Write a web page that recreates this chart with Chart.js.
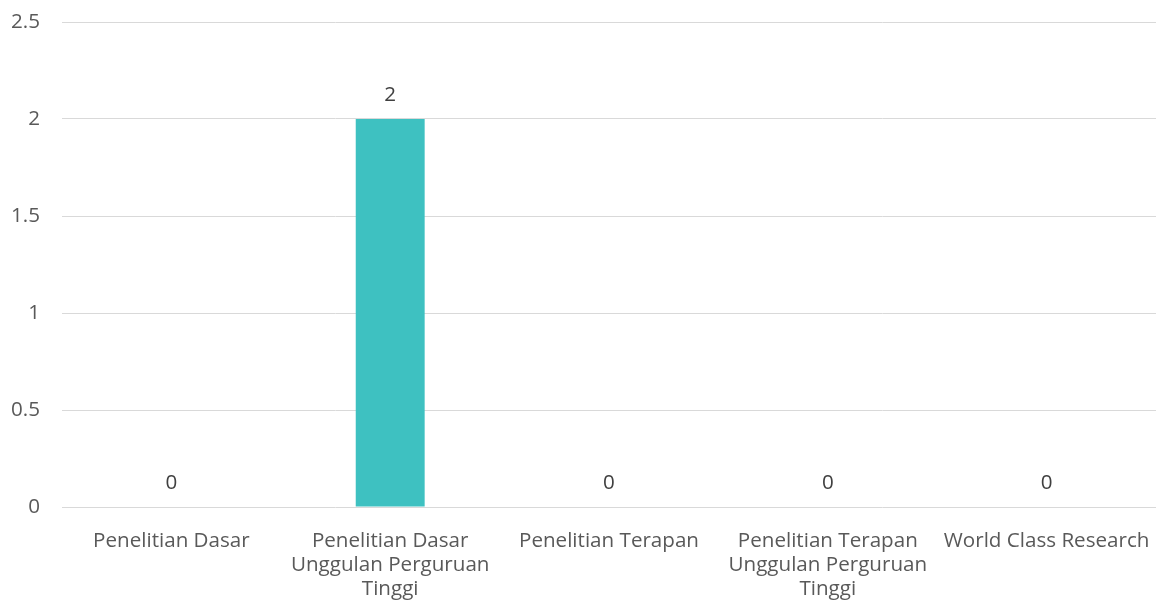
<!DOCTYPE html>
<html>
<head>
<meta charset="utf-8">
<script src="https://cdn.jsdelivr.net/npm/chart.js@4/dist/chart.umd.min.js"></script>
<style>
  html, body { margin: 0; padding: 0; background: #fff; }
  #wrap { width: 1156px; height: 610px; }
</style>
</head>
<body>
<div id="wrap"><canvas id="researchChart"></canvas></div>
<script>
  // categories (split into lines like the original)
  var categories = [
    "Penelitian Dasar",
    ["Penelitian Dasar", "Unggulan Perguruan", "Tinggi"],
    "Penelitian Terapan",
    ["Penelitian Terapan", "Unggulan Perguruan", "Tinggi"],
    "World Class Research"
  ];
  var counts = [0, 2, 0, 0, 0];
  var yTicks = [0, 0.5, 1, 1.5, 2, 2.5];

  var textColor = "#595959";
  var fontSize = 20.6;

  // value labels on top of the bars
  var valueLabels = {
    id: "valueLabels",
    afterDatasetsDraw: function(chart) {
      var ctx = chart.ctx;
      var meta = chart.getDatasetMeta(0);
      ctx.save();
      ctx.font = fontSize + "px 'Open Sans'";
      ctx.fillStyle = "#404040";
      ctx.textAlign = "center";
      ctx.textBaseline = "middle";
      meta.data.forEach(function(bar, i) {
        ctx.fillText(String(counts[i]), bar.x, bar.y - 24);
      });
      ctx.restore();
    }
  };

  new Chart("researchChart", {
    type: "bar",
    data: {
      labels: categories,
      datasets: [{
        data: counts,
        backgroundColor: "#3EC1C1",
        categoryPercentage: 1,
        barPercentage: 0.315
      }]
    },
    options: {
      responsive: true,
      maintainAspectRatio: false,
      animation: false,
      layout: { padding: { top: 22, right: 0, left: 0, bottom: 0 } },
      plugins: {
        legend: { display: false },
        tooltip: { enabled: false }
      },
      scales: {
        x: {
          grid: { display: false },
          border: { display: false },
          ticks: {
            color: textColor,
            font: { family: "Open Sans", size: fontSize, lineHeight: 24 / fontSize },
            maxRotation: 0,
            autoSkip: false,
            padding: 14
          },
          afterFit: function(axis) {
            axis.height = 103;
            axis.paddingLeft = 0;
            axis.paddingRight = 0;
          }
        },
        y: {
          min: 0,
          max: 2.5,
          afterBuildTicks: function(axis) {
            axis.ticks = yTicks.map(function(v) { return { value: v }; });
          },
          grid: { color: "#d9d9d9", lineWidth: 1, drawTicks: false },
          border: { display: false },
          ticks: {
            color: textColor,
            font: { family: "Open Sans", size: fontSize },
            padding: 22,
            callback: function(v) { return String(v); }
          },
          afterFit: function(axis) {
            axis.width = 62;
            axis.paddingTop = 0;
            axis.paddingBottom = 0;
          }
        }
      }
    },
    plugins: [valueLabels]
  });
</script>
</body>
</html>
